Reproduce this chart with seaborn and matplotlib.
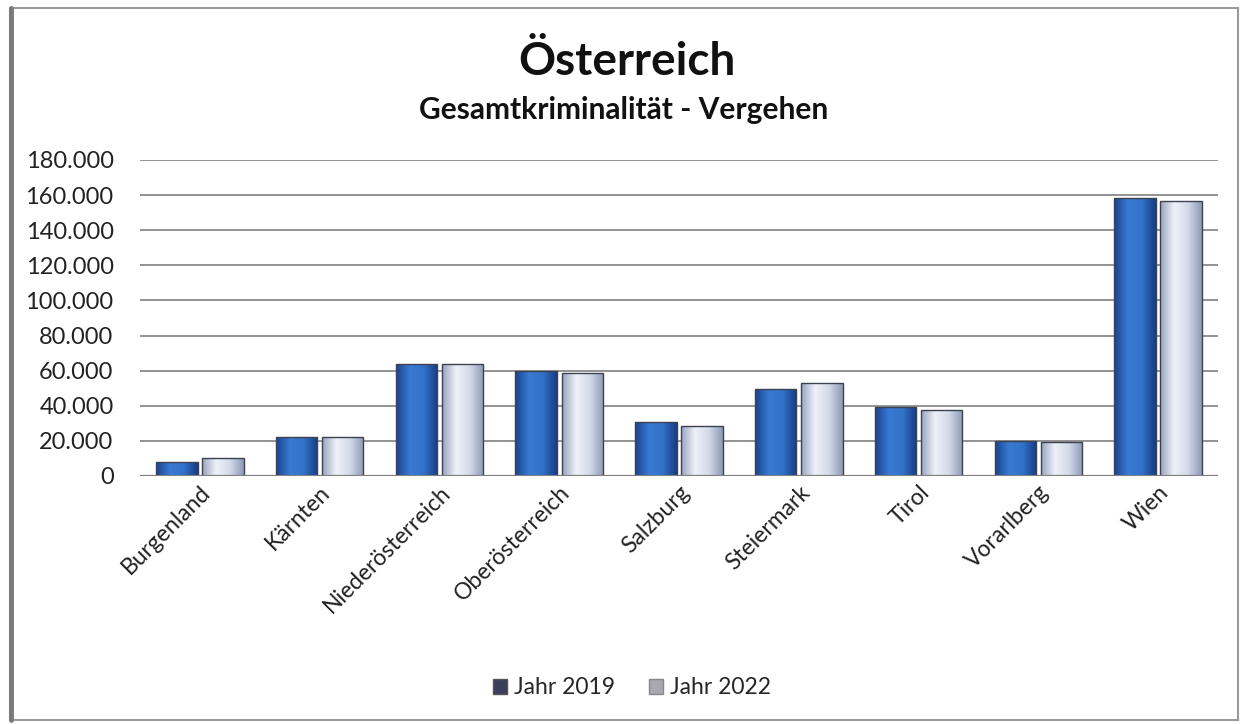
import matplotlib
matplotlib.use("Agg")
import matplotlib.pyplot as plt
import seaborn as sns
import pandas as pd
import numpy as np
from matplotlib.ticker import FuncFormatter, MultipleLocator
from matplotlib.patches import Rectangle, Patch
from matplotlib.lines import Line2D
from matplotlib.colors import LinearSegmentedColormap

categories = ["Burgenland", "Kärnten", "Niederösterreich", "Oberösterreich",
              "Salzburg", "Steiermark", "Tirol", "Vorarlberg", "Wien"]
jahr_2019 = [7800, 22000, 63800, 59600, 30900, 49400, 39100, 20000, 158600]
jahr_2022 = [10000, 22000, 63800, 58500, 28500, 52800, 37600, 19500, 156700]
series_names = ["Jahr 2019", "Jahr 2022"]
title = "Österreich"
subtitle = "Gesamtkriminalität - Vergehen"

df = pd.DataFrame({
    "Bundesland": categories * 2,
    "Wert": jahr_2019 + jahr_2022,
    "Jahr": [series_names[0]] * len(categories) + [series_names[1]] * len(categories),
})

sns.set_theme(style="white")
plt.rcParams["font.family"] = ["Lato", "DejaVu Sans"]

fig = plt.figure(figsize=(12.44, 7.24), dpi=100)
ax = fig.add_axes([140 / 1244, 248 / 724, 1078 / 1244, 316 / 724])

colors = {"Jahr 2019": "#2d64b9", "Jahr 2022": "#bfc9de"}
sns.barplot(data=df, x="Bundesland", y="Wert", hue="Jahr", order=categories,
            hue_order=series_names, palette=colors, saturation=1, width=0.77, gap=0.1,
            edgecolor="#3c4250", linewidth=1.0, ax=ax, legend=False, zorder=3)

# cylinder-like horizontal gradient inside each bar
cmaps = {
    "#2d64b9": LinearSegmentedColormap.from_list("b", ["#1a4390", "#3a7ad4", "#3272c9", "#173c85"]),
    "#bfc9de": LinearSegmentedColormap.from_list("g", ["#98a4bf", "#eef1f8", "#d3dae9", "#8f9bb6"]),
}
grad = np.linspace(0, 1, 64).reshape(1, -1)
for p in list(ax.patches):
    fc = matplotlib.colors.to_hex(p.get_facecolor())
    cm = cmaps.get(fc)
    if cm is None:
        continue
    x0, y0 = p.get_x(), p.get_y()
    w, h = p.get_width(), p.get_height()
    im = ax.imshow(grad, cmap=cm, aspect="auto", extent=(x0, x0 + w, y0, y0 + h),
                   zorder=3.5, interpolation="bicubic")
    im.set_clip_path(p)
    p.set_zorder(3.6)
    p.set_facecolor("none")

ax.set_ylim(0, 180000)
ax.yaxis.set_major_locator(MultipleLocator(20000))
ax.yaxis.set_major_formatter(FuncFormatter(lambda v, pos: f"{int(v):,}".replace(",", ".")))
ax.set_xlim(-0.5, len(categories) - 0.5)
ax.grid(axis="y", color="#8a8a8a", linewidth=1.3, zorder=0)
ax.set_axisbelow(True)
for s in ax.spines.values():
    s.set_visible(False)
ax.axhline(0, color="#7f7f7f", linewidth=1.6, zorder=4)
ax.set_xlabel("")
ax.set_ylabel("")
ax.tick_params(axis="y", labelsize=17, colors="#222222", pad=19, length=0)
ax.tick_params(axis="x", labelsize=16.5, colors="#222222", length=0, pad=4)
plt.setp(ax.get_xticklabels(), rotation=45, ha="right", rotation_mode="anchor")

fig.text(627 / 1244, 1 - 62 / 724, title, ha="center", va="center",
         fontsize=33, fontweight="bold", color="#111111")
fig.text(624 / 1244, 1 - 110 / 724, subtitle, ha="center", va="center",
         fontsize=21.5, fontweight="bold", color="#111111")

handles = [Patch(facecolor="#3b3f5e", edgecolor="#555555", label=series_names[0]),
           Patch(facecolor="#a8a8b0", edgecolor="#888888", label=series_names[1])]
fig.legend(handles=handles, loc="center", bbox_to_anchor=(632 / 1244, 1 - 688 / 724),
           ncol=2, frameon=False, fontsize=16.5, handlelength=0.6, handleheight=0.6,
           handletextpad=0.3, columnspacing=1.5)

fig.patches.append(Rectangle((10 / 1244, 1 - 720 / 724), 1228 / 1244, 712 / 724,
                             transform=fig.transFigure, fill=False,
                             edgecolor="#9a9a9a", linewidth=1.5))
fig.lines.append(Line2D([11 / 1244, 11 / 1244], [1 - 720 / 724, 1 - 8 / 724],
                        transform=fig.transFigure, color="#7a7a7a", linewidth=3.5))

fig.savefig("out.png", dpi=100, facecolor="white")
